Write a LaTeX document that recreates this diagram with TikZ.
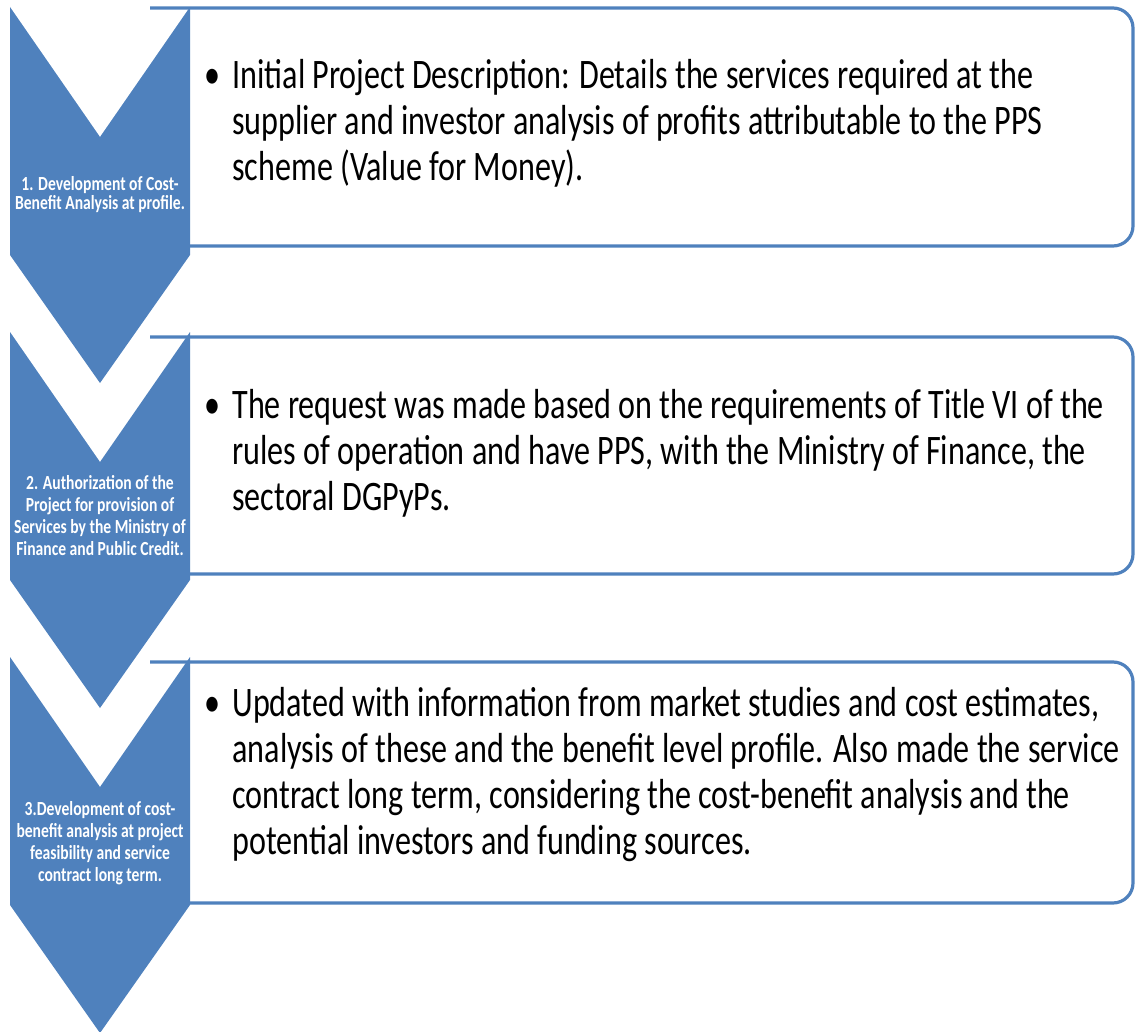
\documentclass[tikz,border=0pt]{standalone}
\usepackage{fontspec}
\setmainfont{Carlito}
\newfontfamily\chevfont[FakeStretch=0.78]{Carlito}
\newfontfamily\boxfont[FakeStretch=0.765]{Carlito}
\usepackage{tikz}

\definecolor{stepblue}{HTML}{4F81BD}

\tikzset{
    chevron/.style={fill=stepblue},
    boxline/.style={draw=stepblue,line width=1.6pt,fill=white,rounded corners=10pt},
    chevlabel/.style={text=white,align=center,inner sep=0pt,
        font=\chevfont\bfseries\fontsize{10}{11}\selectfont},
    boxtext/.style={inner sep=0pt,anchor=base west,
        font=\boxfont\fontsize{21}{23}\selectfont},
    bullet/.style={inner sep=0pt,anchor=base,font=\boxfont\fontsize{21}{23}\selectfont}
}
% first line on the node's base
\newcommand{\boxlines}[1]{\begin{tabular}[t]{@{}l@{}}#1\end{tabular}}

\begin{document}
\begin{tikzpicture}[x=0.5pt,y=-0.5pt]
    \useasboundingbox (0,0) rectangle (1135,1032);

    % boxes behind, left edge hidden by the chevrons
    \draw[boxline] (150,8) -- (1133,8) -- (1133,246) -- (150,246);
    \draw[boxline] (150,337) -- (1133,337) -- (1133,574) -- (150,574);
    \draw[boxline] (150,662) -- (1133,662) -- (1133,903) -- (150,903);

    % chevrons, one every 325px
    \foreach \top in {7,332,657}
        \fill[chevron] (10,\top) -- (100,\top+130) -- (190,\top)
            -- (190,\top+248) -- (100,\top+376) -- (10,\top+248) -- cycle;

    \node[chevlabel,font=\chevfont\bfseries\fontsize{10}{9.5}\selectfont] (lab1) at (100,195)
        {1. Development of Cost-\\Benefit Analysis at profile.};
    \node[chevlabel] (lab2) at (100,516)
        {2. Authorization of the\\Project for provision of\\Services by the Ministry of\\Finance and Public Credit.};
    \node[chevlabel] (lab3) at (100,843)
        {3.Development of cost-\\benefit analysis at project\\feasibility and service\\contract long term.};

    \node[bullet] (bul1) at (212,89) {\textbullet};
    \node[boxtext] (txt1) at (232,89) {\boxlines{
        Initial Project Description: Details the services required at the\\
        supplier and investor analysis of profits attributable to the PPS\\
        scheme (Value for Money).}};

    \node[bullet] (bul2) at (212,418) {\textbullet};
    \node[boxtext] (txt2) at (232,418) {\boxlines{
        The request was made based on the requirements of Title VI of the\\
        rules of operation and have PPS, with the Ministry of Finance, the\\
        sectoral DGPyPs.}};

    \node[bullet] (bul3) at (212,716) {\textbullet};
    \node[boxtext] (txt3) at (232,716) {\boxlines{
        Updated with information from market studies and cost estimates,\\
        analysis of these and the benefit level profile. Also made the service\\
        contract long term, considering the cost-benefit analysis and the\\
        potential investors and funding sources.}};
\end{tikzpicture}
\end{document}
